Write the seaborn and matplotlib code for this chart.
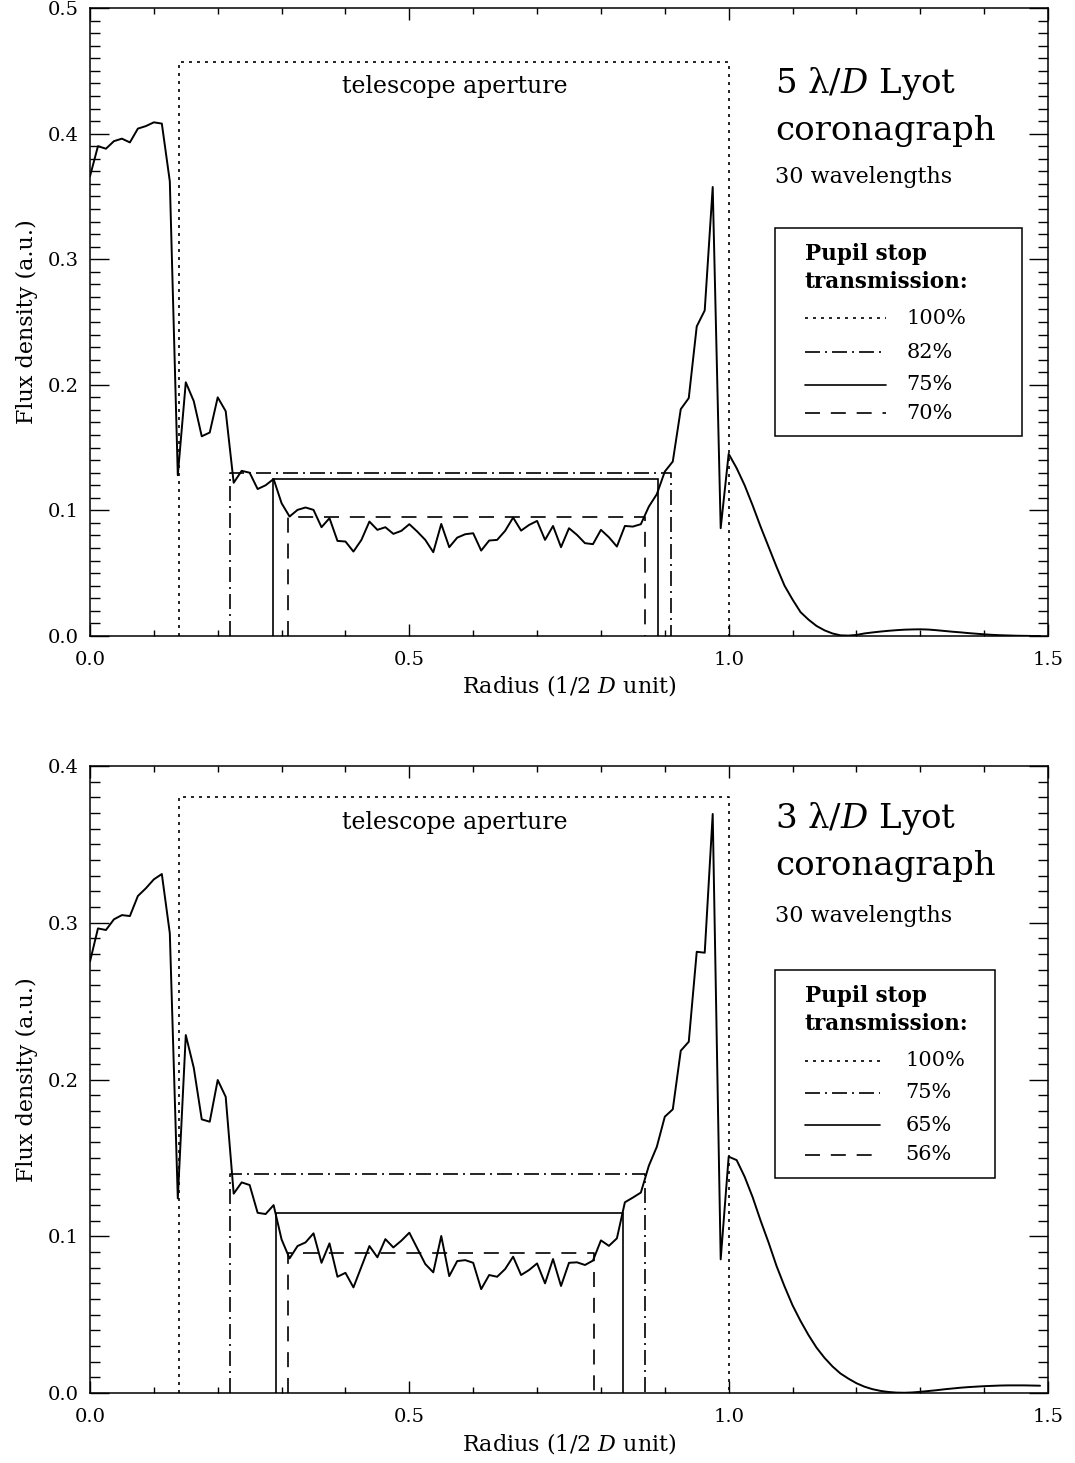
import numpy as np
import pandas as pd
import matplotlib
matplotlib.use("Agg")
import matplotlib.pyplot as plt
import seaborn as sns
from matplotlib.patches import Rectangle
from matplotlib.ticker import MultipleLocator, FormatStrFormatter

# Radial sampling step of the profiles (in units of D/2)
R_STEP = 0.0125

# Azimuthally averaged flux in the Lyot pupil plane, 5 lambda/D mask
flux_5ld = [
    0.366, 0.390, 0.388, 0.394, 0.396, 0.393, 0.404, 0.406, 0.409, 0.408,
    0.362, 0.128, 0.202, 0.187, 0.159, 0.162, 0.190, 0.179, 0.122, 0.1315,
    0.130, 0.117, 0.120, 0.125, 0.1057, 0.0951, 0.1004, 0.1023, 0.1004, 0.0866,
    0.0938, 0.0757, 0.0752, 0.0672, 0.0765, 0.0911, 0.0845, 0.0866, 0.0813, 0.0837,
    0.0890, 0.0831, 0.0765, 0.0667, 0.0892, 0.0707, 0.0783, 0.0810, 0.0818, 0.0680,
    0.0760, 0.0765, 0.0837, 0.0943, 0.0839, 0.0884, 0.0916, 0.0765, 0.0876, 0.0707,
    0.0858, 0.0805, 0.0739, 0.0731, 0.0845, 0.0786, 0.0712, 0.0876, 0.0871, 0.0890,
    0.1030, 0.1129, 0.1309, 0.1389, 0.1806, 0.1894, 0.2465, 0.2592, 0.3575, 0.0858,
    0.1450, 0.1336, 0.120, 0.104, 0.087, 0.071, 0.055, 0.040, 0.029, 0.019,
    0.013, 0.008, 0.0045, 0.002, 0.0005, 0.0003, 0.0008, 0.0020, 0.0028, 0.0035,
    0.0041, 0.0046, 0.0050, 0.0052, 0.0053, 0.0051, 0.0046, 0.0040, 0.0034, 0.0029,
    0.0023, 0.0018, 0.0013, 0.0009, 0.0006, 0.0004, 0.0002, 0.0001, 0.0, 0.0,
]

# Same profile for the 3 lambda/D mask
flux_3ld = [
    0.2752, 0.2964, 0.2954, 0.3022, 0.3049, 0.3043, 0.3171, 0.3220, 0.3277, 0.3311,
    0.2933, 0.1242, 0.2284, 0.2075, 0.1746, 0.1731, 0.1997, 0.1890, 0.1272, 0.1344,
    0.1327, 0.1150, 0.1142, 0.1199, 0.0980, 0.0859, 0.0938, 0.0961, 0.1019, 0.0831,
    0.0955, 0.0742, 0.0767, 0.0674, 0.0806, 0.0938, 0.0866, 0.0982, 0.0929, 0.0972,
    0.1023, 0.0923, 0.0823, 0.0770, 0.1002, 0.0746, 0.0842, 0.0848, 0.0831, 0.0663,
    0.0753, 0.0742, 0.0791, 0.0870, 0.0753, 0.0785, 0.0827, 0.0700, 0.0855, 0.0683,
    0.0831, 0.0834, 0.0817, 0.0845, 0.0974, 0.0939, 0.0987, 0.1217, 0.1247, 0.1279,
    0.1450, 0.1571, 0.1763, 0.1810, 0.2184, 0.2241, 0.2815, 0.2809, 0.3694, 0.0853,
    0.1508, 0.1486, 0.138, 0.125, 0.110, 0.096, 0.081, 0.068, 0.056, 0.046,
    0.037, 0.029, 0.0225, 0.017, 0.0125, 0.0092, 0.0063, 0.0041, 0.0025, 0.0014,
    0.0007, 0.0003, 0.0002, 0.0004, 0.0008, 0.0013, 0.0018, 0.0024, 0.0029, 0.0034,
    0.0038, 0.0041, 0.0044, 0.0046, 0.0048, 0.0049, 0.0049, 0.0049, 0.0048, 0.0047,
]

# Pupil stops: inner radius, outer radius and the flux level of the outline
stop_labels_5ld = ["100%", "82%", "75%", "70%"]
stop_inner_5ld = [0.14, 0.22, 0.286, 0.3105]
stop_outer_5ld = [1.0, 0.909, 0.889, 0.869]
stop_level_5ld = [0.457, 0.130, 0.125, 0.095]

stop_labels_3ld = ["100%", "75%", "65%", "56%"]
stop_inner_3ld = [0.14, 0.22, 0.291, 0.3105]
stop_outer_3ld = [1.0, 0.869, 0.835, 0.789]
stop_level_3ld = [0.380, 0.140, 0.115, 0.0895]

panel_titles = ["5 λ/$\\mathit{D}$ Lyot", "3 λ/$\\mathit{D}$ Lyot"]
panel_ymax = [0.5, 0.4]

# line styles, in order: 100 %, dash-dot, solid, dashed
STOP_STYLES = [(0, (1.8, 3.0)), (0, (9, 3, 1.2, 3)), "-", (0, (9, 6.5))]

sns.set_theme(style="ticks")
plt.rcParams["font.family"] = ["DejaVu Serif", "DejaVu Sans"]
plt.rcParams["mathtext.fontset"] = "dejavuserif"
plt.rcParams["axes.edgecolor"] = "black"
plt.rcParams["text.color"] = "black"
plt.rcParams["axes.labelcolor"] = "black"
plt.rcParams["xtick.color"] = "black"
plt.rcParams["ytick.color"] = "black"

fig = plt.figure(figsize=(10.75, 14.63), dpi=100)
ax_top = fig.add_axes([0.0837, 0.5653, 0.8912, 0.4292])
ax_bot = fig.add_axes([0.0837, 0.0478, 0.8912, 0.4286])

LW = 1.2

layout = [
    dict(ax=ax_top, flux=flux_5ld, labels=stop_labels_5ld, inner=stop_inner_5ld,
         outer=stop_outer_5ld, level=stop_level_5ld, title=panel_titles[0],
         ymax=panel_ymax[0],
         tel_y=0.865, t1=0.864, t2=0.790, t3=0.721,
         box=(0.715, 0.318, 0.258, 0.332), hdr=(0.599, 0.554),
         rows=[0.506, 0.452, 0.400, 0.355], sample=(0.746, 0.831), lab_x=0.8525),
    dict(ax=ax_bot, flux=flux_3ld, labels=stop_labels_3ld, inner=stop_inner_3ld,
         outer=stop_outer_3ld, level=stop_level_3ld, title=panel_titles[1],
         ymax=panel_ymax[1],
         tel_y=0.8995, t1=0.901, t2=0.826, t3=0.751,
         box=(0.715, 0.343, 0.230, 0.332), hdr=(0.624, 0.579),
         rows=[0.530, 0.479, 0.427, 0.380], sample=(0.746, 0.825), lab_x=0.851),
]

for p in layout:
    ax = p["ax"]
    flux = np.asarray(p["flux"])
    df = pd.DataFrame({"radius": np.arange(len(flux)) * R_STEP, "flux": flux})

    # pupil stop outlines
    for r_in, r_out, h, ls in zip(p["inner"], p["outer"], p["level"], STOP_STYLES):
        ax.plot([r_in, r_in, r_out, r_out], [0, h, h, 0], color="black",
                lw=LW, linestyle=ls, solid_joinstyle="miter")

    # radial flux profile
    sns.lineplot(data=df, x="radius", y="flux", ax=ax, color="black", lw=1.4,
                 estimator=None, sort=False)

    ax.set_xlim(0, 1.5)
    ax.set_ylim(0, p["ymax"])
    ax.xaxis.set_major_locator(MultipleLocator(0.5))
    ax.xaxis.set_minor_locator(MultipleLocator(0.1))
    ax.yaxis.set_major_locator(MultipleLocator(0.1))
    ax.yaxis.set_minor_locator(MultipleLocator(0.01))
    ax.xaxis.set_major_formatter(FormatStrFormatter("%.1f"))
    ax.yaxis.set_major_formatter(FormatStrFormatter("%.1f"))
    ax.tick_params(axis="both", which="both", direction="in", top=True,
                   right=True, width=1.0, labelsize=14, colors="black")
    ax.tick_params(axis="x", which="major", length=8.6, pad=11)
    ax.tick_params(axis="x", which="minor", length=4.3)
    ax.tick_params(axis="y", which="major", length=13.7, pad=8)
    ax.tick_params(axis="y", which="minor", length=7.2)
    for sp in ax.spines.values():
        sp.set_visible(True)
        sp.set_linewidth(1.1)
        sp.set_color("black")

    ax.set_xlabel("Radius (1/2 $\\mathit{D}$ unit)", fontsize=16, labelpad=3)
    ax.set_ylabel("Flux density (a.u.)", fontsize=16, labelpad=7)

    tr = ax.transAxes
    ax.text(0.381, p["tel_y"], "telescope aperture", transform=tr,
            ha="center", va="baseline", fontsize=17)
    ax.text(0.715, p["t1"], p["title"], transform=tr, ha="left",
            va="baseline", fontsize=24.5)
    ax.text(0.715, p["t2"], "coronagraph", transform=tr, ha="left",
            va="baseline", fontsize=24.5)
    ax.text(0.715, p["t3"], "30 wavelengths", transform=tr, ha="left",
            va="baseline", fontsize=16)

    # pupil stop key
    bx, by, bw, bh = p["box"]
    ax.add_patch(Rectangle((bx, by), bw, bh, transform=tr, fill=False,
                           edgecolor="black", lw=1.1))
    ax.text(p["sample"][0], p["hdr"][0], "Pupil stop", transform=tr,
            ha="left", va="baseline", fontsize=15.5, fontweight="bold")
    ax.text(p["sample"][0], p["hdr"][1], "transmission:", transform=tr,
            ha="left", va="baseline", fontsize=15.5, fontweight="bold")
    for yrow, lab, ls in zip(p["rows"], p["labels"], STOP_STYLES):
        ax.plot(list(p["sample"]), [yrow, yrow], transform=tr, color="black",
                lw=LW, linestyle=ls)
        ax.text(p["lab_x"], yrow, lab, transform=tr, ha="left",
                va="center", fontsize=15)

fig.savefig("out.png", dpi=100)
